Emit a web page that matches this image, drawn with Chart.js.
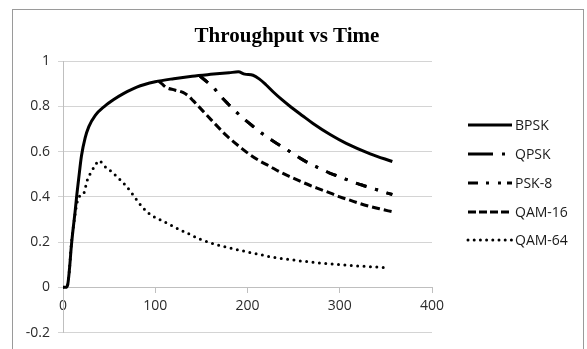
<!DOCTYPE html>
<html>
<head>
<meta charset="utf-8">
<script src="https://cdn.jsdelivr.net/npm/chart.js@4/dist/chart.umd.min.js"></script>
<style>
  html, body { margin: 0; padding: 0; background: #fff; overflow: hidden; }
  #wrap { position: relative; width: 587px; height: 349px; }
  #frame { position: absolute; left: 12px; top: 9px; width: 570px; height: 400px; border: 1px solid #9a9a9a; }
  #chart { position: absolute; left: 0; top: 0; }
</style>
</head>
<body>
<div id="wrap">
  <div id="frame"></div>
  <canvas id="chart" width="587" height="349"></canvas>
</div>
<script>
const chartTitle = "Throughput vs Time";
const seriesNames = ["BPSK", "QPSK", "PSK-8", "QAM-16", "QAM-64"];
const xTicks = [0, 100, 200, 300, 400];
const yTicks = [-0.2, 0, 0.2, 0.4, 0.6, 0.8, 1];

const bpskTime = [0, 3, 5, 7, 9, 11, 13, 15, 17, 20, 24, 28, 35, 45, 55, 65, 80, 100, 120, 140, 160, 180, 190, 197, 206, 213, 220, 228, 237, 246, 260, 271, 290, 307, 333, 357];
const bpskThroughput = [0, 0, 0.01, 0.08, 0.18, 0.26, 0.33, 0.41, 0.48, 0.58, 0.66, 0.71, 0.76, 0.8, 0.83, 0.855, 0.885, 0.908, 0.922, 0.933, 0.941, 0.948, 0.952, 0.942, 0.937, 0.92, 0.895, 0.863, 0.83, 0.8, 0.757, 0.724, 0.674, 0.636, 0.59, 0.556];

const qpskTime = [148, 154, 163, 171, 179, 188, 197, 208, 217, 226, 237, 246, 257, 268, 279, 289, 300, 312, 324, 336, 347, 357];
const qpskThroughput = [0.935, 0.915, 0.883, 0.844, 0.81, 0.774, 0.741, 0.705, 0.676, 0.651, 0.622, 0.6, 0.571, 0.545, 0.524, 0.505, 0.488, 0.469, 0.452, 0.437, 0.422, 0.41];

const psk8Time = [148, 154, 163, 171, 179, 188, 197, 208, 217, 226, 237, 246, 257, 268, 279, 289, 300, 312, 324, 336, 347, 357];
const psk8Throughput = [0.935, 0.915, 0.883, 0.844, 0.81, 0.774, 0.741, 0.705, 0.676, 0.651, 0.622, 0.6, 0.571, 0.545, 0.524, 0.505, 0.488, 0.469, 0.452, 0.437, 0.422, 0.41];

const qam16Time = [104, 107, 112, 121, 130, 136, 141, 148, 156, 163, 170, 177, 185, 194, 203, 213, 224, 235, 246, 257, 268, 279, 290, 300, 311, 322, 333, 344, 357];
const qam16Throughput = [0.91, 0.9, 0.883, 0.872, 0.861, 0.845, 0.825, 0.795, 0.76, 0.73, 0.7, 0.671, 0.643, 0.613, 0.585, 0.559, 0.535, 0.51, 0.489, 0.469, 0.45, 0.433, 0.416, 0.4, 0.385, 0.37, 0.357, 0.346, 0.334];

const qam64Time = [0, 3, 5, 7, 9, 11, 13, 15, 17, 20, 23, 26, 31, 35, 39, 45, 50, 56, 62, 67, 73, 78, 86, 94, 103, 112, 125, 137, 149, 165, 185, 205, 228, 257, 280, 300, 325, 352];
const qam64Throughput = [0, 0, 0.01, 0.08, 0.19, 0.26, 0.32, 0.37, 0.4, 0.405, 0.42, 0.47, 0.513, 0.54, 0.56, 0.535, 0.52, 0.498, 0.475, 0.454, 0.425, 0.397, 0.355, 0.324, 0.303, 0.285, 0.258, 0.235, 0.212, 0.19, 0.17, 0.152, 0.133, 0.117, 0.107, 0.1, 0.093, 0.087];

const toPoints = (xs, ys) => xs.map((x, i) => ({ x: x, y: ys[i] }));

// plot line styles; PSK-8 sits under QPSK so it uses the same dash there
const lineStyles = [
  { dash: [], width: 3, cap: "butt" },
  { dash: [11, 9, 3, 9], width: 3, cap: "butt" },
  { dash: [11, 9, 3, 9], width: 3, cap: "butt" },
  { dash: [8, 4], width: 3, cap: "butt" },
  { dash: [0, 6.4], width: 3, cap: "round" }
];
// legend samples as drawn in the key
const legendStyles = [
  { dash: [], width: 3, cap: "butt" },
  { dash: [25, 9, 3, 20], width: 3, cap: "butt" },
  { dash: [10, 8, 3, 9, 3, 6], width: 3, cap: "butt" },
  { dash: [8, 3], width: 3, cap: "butt" },
  { dash: [0, 6.2], width: 3, cap: "round" }
];
const legendRows = [125, 154, 183, 212, 240];

const allSeries = [
  toPoints(bpskTime, bpskThroughput),
  toPoints(qpskTime, qpskThroughput),
  toPoints(psk8Time, psk8Throughput),
  toPoints(qam16Time, qam16Throughput),
  toPoints(qam64Time, qam64Throughput)
];

const titleAndKey = {
  id: "titleAndKey",
  afterDraw(chart) {
    const ctx = chart.ctx;
    ctx.save();
    ctx.fillStyle = "#000";
    ctx.font = "bold 21px 'Liberation Serif'";
    ctx.textAlign = "center";
    ctx.textBaseline = "alphabetic";
    ctx.fillText(chartTitle, 287, 42);

    ctx.font = "14px 'Open Sans'";
    ctx.textAlign = "left";
    ctx.textBaseline = "middle";
    seriesNames.forEach((name, i) => {
      const y = legendRows[i];
      const st = legendStyles[i];
      ctx.beginPath();
      ctx.setLineDash(st.dash);
      ctx.lineWidth = st.width;
      ctx.lineCap = st.cap;
      ctx.strokeStyle = "#000";
      ctx.moveTo(468, y);
      ctx.lineTo(512, y);
      ctx.stroke();
      ctx.setLineDash([]);
      ctx.fillStyle = "#1a1a1a";
      ctx.fillText(name, 515, y + 1);
    });
    ctx.restore();
  }
};

new Chart(document.getElementById("chart"), {
  type: "line",
  data: {
    datasets: seriesNames.map((name, i) => ({
      label: name,
      data: allSeries[i],
      borderColor: "#000",
      borderWidth: lineStyles[i].width,
      borderDash: lineStyles[i].dash,
      borderCapStyle: lineStyles[i].cap,
      pointRadius: 0,
      fill: false,
      cubicInterpolationMode: "monotone"
    }))
  },
  options: {
    responsive: false,
    animation: false,
    layout: { padding: { left: 0, top: 61, right: 155, bottom: 12 } },
    plugins: {
      legend: { display: false },
      title: { display: false },
      tooltip: { enabled: false }
    },
    scales: {
      x: {
        type: "linear",
        position: { y: 0 },
        min: 0,
        max: 400,
        afterBuildTicks: (scale) => { scale.ticks = xTicks.map(v => ({ value: v })); },
        grid: { drawOnChartArea: false, drawTicks: true, tickLength: 5, color: "#bfbfbf" },
        border: { color: "#bfbfbf" },
        ticks: {
          padding: 5,
          color: "#2b2b2b",
          font: { family: "'Open Sans'", size: 14 },
          maxRotation: 0,
          callback: v => String(v)
        }
      },
      y: {
        min: -0.2,
        max: 1,
        afterFit: (scale) => { scale.width = 63; },
        afterBuildTicks: (scale) => { scale.ticks = yTicks.map(v => ({ value: v })); },
        grid: { color: "#d4d4d4", tickLength: 5 },
        border: { color: "#bfbfbf" },
        ticks: {
          padding: 8,
          color: "#2b2b2b",
          font: { family: "'Open Sans'", size: 14 },
          callback: v => String(Math.round(v * 10) / 10)
        }
      }
    }
  },
  plugins: [titleAndKey]
});
</script>
</body>
</html>
